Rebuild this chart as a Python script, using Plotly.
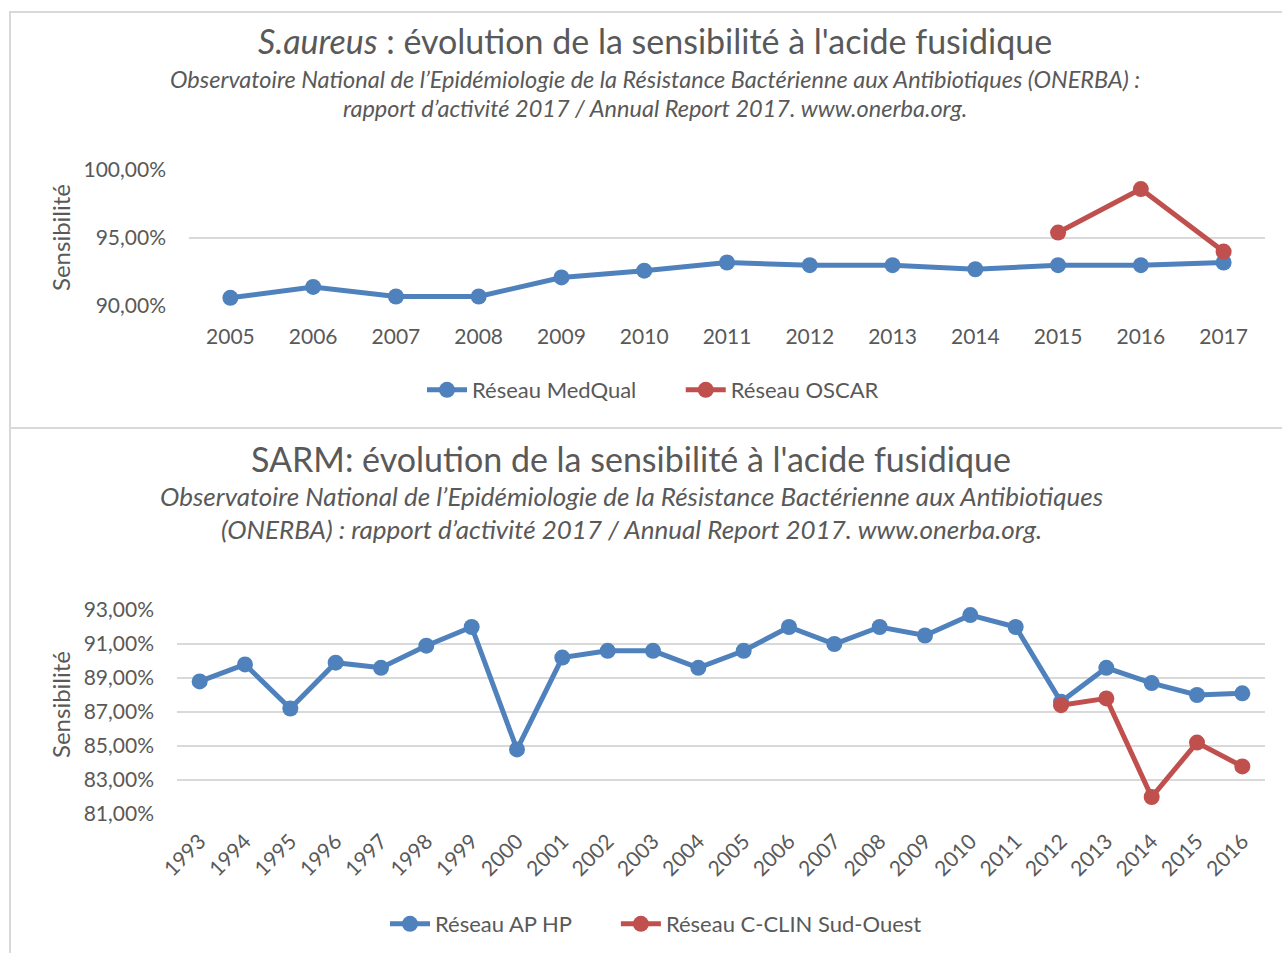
import plotly.graph_objects as go

W, H = 1282, 953

# ---- Data: top chart (S. aureus) ----
years_top = ["2005", "2006", "2007", "2008", "2009", "2010", "2011", "2012", "2013", "2014", "2015", "2016", "2017"]
medqual = [90.6, 91.4, 90.7, 90.7, 92.1, 92.6, 93.2, 93.0, 93.0, 92.7, 93.0, 93.0, 93.2]
oscar_years = ["2015", "2016", "2017"]
oscar = [95.4, 98.6, 94.0]

# ---- Data: bottom chart (SARM) ----
years_bot = [str(y) for y in range(1993, 2017)]
aphp = [88.8, 89.8, 87.2, 89.9, 89.6, 90.9, 92.0, 84.8, 90.2, 90.6, 90.6, 89.6,
        90.6, 92.0, 91.0, 92.0, 91.5, 92.7, 92.0, 87.6, 89.6, 88.7, 88.0, 88.1]
cclin_years = ["2012", "2013", "2014", "2015", "2016"]
cclin = [87.4, 87.8, 82.0, 85.2, 83.8]

top_ticks = [90, 95, 100]
bot_ticks = [81, 83, 85, 87, 89, 91, 93]


def pct_label(v):
    return f"{v:.2f}".replace(".", ",") + "%"


BLUE = "#4F81BD"
RED = "#C0504D"
GREY = "#595959"
GRID = "#D9D9D9"
FONT = "Lato"
NB = "\u00a0"


def px_x(x):
    return x / W


def px_y(y):
    return 1 - y / H


fig = go.Figure()


def series(x, y, name, color, xa, ya, leg):
    return go.Scatter(x=x, y=y, name=name, xaxis=xa, yaxis=ya,
                      line=dict(color=color, width=5), marker=dict(color=color, size=16),
                      mode="lines+markers", legend=leg, cliponaxis=False)


fig.add_trace(series(years_top, medqual, "Réseau MedQual" + NB * 7, BLUE, "x", "y", "legend"))
fig.add_trace(series(oscar_years, oscar, "Réseau OSCAR", RED, "x", "y", "legend"))
fig.add_trace(series(years_bot, aphp, "Réseau AP HP" + NB * 7, BLUE, "x2", "y2", "legend2"))
fig.add_trace(series(cclin_years, cclin, "Réseau C-CLIN Sud-Ouest", RED, "x2", "y2", "legend2"))

axis_font = dict(family=FONT, size=21, color=GREY)

fig.update_layout(
    width=W, height=H,
    margin=dict(l=0, r=0, t=0, b=0, autoexpand=False),
    paper_bgcolor="white", plot_bgcolor="white",
    font=dict(family=FONT, color=GREY),
    xaxis=dict(domain=[px_x(189), px_x(1265)], anchor="y", type="category",
               categoryorder="array", categoryarray=years_top,
               range=[-0.5, len(years_top) - 0.5], automargin=False,
               showgrid=False, showline=False, zeroline=False, ticks="",
               tickfont=axis_font, ticklabelstandoff=16),
    yaxis=dict(domain=[px_y(306), px_y(170)], anchor="x", range=[90, 100], automargin=False,
               tickvals=top_ticks, ticktext=[pct_label(v) for v in top_ticks],
               showgrid=True, gridcolor=GRID, gridwidth=2, zeroline=False, showline=False,
               tickfont=axis_font, ticklabelstandoff=22),
    xaxis2=dict(domain=[px_x(177), px_x(1265)], anchor="y2", type="category",
                categoryorder="array", categoryarray=years_bot,
                range=[-0.5, len(years_bot) - 0.5], automargin=False,
                showgrid=False, showline=False, zeroline=False, ticks="",
                tickangle=-45, tickfont=axis_font, ticklabelstandoff=10),
    yaxis2=dict(domain=[px_y(814), px_y(610)], anchor="x2", range=[81, 93], automargin=False,
                tickvals=bot_ticks, ticktext=[pct_label(v) for v in bot_ticks],
                showgrid=True, gridcolor=GRID, gridwidth=2, zeroline=False, showline=False,
                tickfont=axis_font, ticklabelstandoff=22),
    legend=dict(orientation="h", x=px_x(653), y=px_y(390), xanchor="center", yanchor="middle",
                font=dict(family=FONT, size=22, color=GREY), itemwidth=40,
                bgcolor="rgba(0,0,0,0)"),
    legend2=dict(orientation="h", x=px_x(656), y=px_y(924), xanchor="center", yanchor="middle",
                 font=dict(family=FONT, size=22, color=GREY), itemwidth=40,
                 bgcolor="rgba(0,0,0,0)"),
)

shapes = [
    dict(type="rect", xref="paper", yref="paper", x0=px_x(10), x1=px_x(1300), y0=px_y(428), y1=px_y(12),
         line=dict(color=GRID, width=2), fillcolor="rgba(0,0,0,0)", layer="below"),
    dict(type="rect", xref="paper", yref="paper", x0=px_x(10), x1=px_x(1300), y0=px_y(980), y1=px_y(428),
         line=dict(color=GRID, width=2), fillcolor="rgba(0,0,0,0)", layer="below"),
]
fig.update_layout(shapes=shapes)


def ann(text, x, y, size, italic=False, angle=0, weight=400):
    return dict(text=text, x=px_x(x), y=px_y(y), xref="paper", yref="paper",
                xanchor="center", yanchor="middle", showarrow=False, textangle=angle,
                font=dict(family=FONT, size=size, color=GREY, weight=weight,
                          style="italic" if italic else "normal"))


annotations = [
    ann("<i>S.aureus</i> : évolution de la sensibilité à l'acide fusidique", 655, 41, 34),
    ann("Observatoire National de l’Epidémiologie de la Résistance Bactérienne aux Antibiotiques (ONERBA) :", 655, 79, 23.5, True),
    ann("rapport d’activité 2017 / Annual Report 2017. www.onerba.org.", 655, 108, 23.5, True),
    ann("Sensibilité", 60, 238, 24, angle=-90),
    ann("SARM: évolution de la sensibilité à l'acide fusidique", 631, 458, 34),
    ann("Observatoire National de l’Epidémiologie de la Résistance Bactérienne aux Antibiotiques", 631, 496, 26, True),
    ann("(ONERBA) : rapport d’activité 2017 / Annual Report 2017. www.onerba.org.", 631, 529, 26, True),
    ann("Sensibilité", 60, 705, 24, angle=-90),
]
fig.update_layout(annotations=annotations)

fig.write_html("out.html", config={"displayModeBar": False},
               post_script="document.body.style.margin='0';document.body.style.overflow='hidden';")
